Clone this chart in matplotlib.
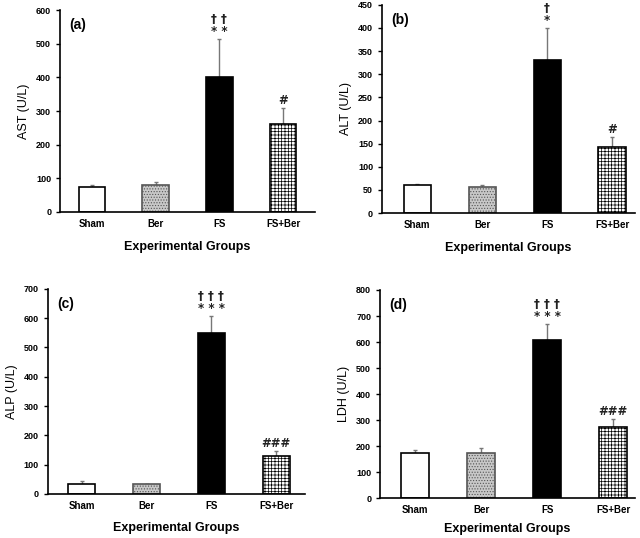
import matplotlib
matplotlib.use("Agg")
import matplotlib.pyplot as plt
import numpy as np

plt.rcParams['font.family'] = ['Liberation Sans', 'DejaVu Sans']
plt.rcParams['hatch.linewidth'] = 0.5

groups = ["Sham", "Ber", "FS", "FS+Ber"]

ast_mean = [75, 80, 400, 262]
ast_err = [5, 8, 115, 48]
ast_sig = ["", "", "† †\n* *", "#"]

alt_mean = [60, 57, 330, 143]
alt_err = [3, 4, 70, 22]
alt_sig = ["", "", "†\n*", "#"]

alp_mean = [35, 33, 548, 130]
alp_err = [10, 2, 60, 18]
alp_sig = ["", "", "† † †\n* * *", "###"]

ldh_mean = [172, 172, 608, 272]
ldh_err = [15, 22, 62, 32]
ldh_sig = ["", "", "† † †\n* * *", "###"]

panels = [
    ("(a)", "AST (U/L)", ast_mean, ast_err, ast_sig, 600, 100,
     [0.094, 0.606, 0.398, 0.375], (-0.5, 3.5), 9),
    ("(b)", "ALT (U/L)", alt_mean, alt_err, alt_sig, 450, 50,
     [0.597, 0.604, 0.395, 0.387], (-0.54, 3.35), 9),
    ("(c)", "ALP (U/L)", alp_mean, alp_err, alp_sig, 700, 100,
     [0.075, 0.082, 0.402, 0.381], (-0.52, 3.45), 8),
    ("(d)", "LDH (U/L)", ldh_mean, ldh_err, ldh_sig, 800, 100,
     [0.594, 0.074, 0.398, 0.387], (-0.53, 3.33), 6),
]

faces = ["white", "#c8c8c8", "black", "white"]
hatches = [None, "......", None, "+++++"]
edges = ["black", "#555555", "black", "black"]

fig = plt.figure(figsize=(6.4, 5.38), dpi=100)

for label, ylab, mean, err, sig, ymax, step, rect, xl, lpad in panels:
    ax = fig.add_axes(rect)
    x = np.arange(len(groups))
    for i in range(len(groups)):
        ax.bar(x[i], mean[i], width=0.42, color=faces[i], edgecolor=edges[i],
               hatch=hatches[i], linewidth=1.2, zorder=2)
    ax.errorbar(x, mean, yerr=[np.zeros(len(err)), err], fmt='none',
                ecolor='#777777', elinewidth=1.0, capsize=1.5, capthick=1.0, zorder=1)
    for i in range(len(groups)):
        if sig[i]:
            ax.text(x[i], mean[i] + err[i] + ymax * 0.005, sig[i], ha='center', va='bottom',
                    fontsize=8.5, linespacing=0.85, color='#222222', fontweight='bold',
                    family=['DejaVu Sans'])
    ax.set_xlim(*xl)
    ax.set_ylim(0, ymax)
    ax.set_yticks(np.arange(0, ymax + 1, step))
    ax.set_xticks(x)
    ax.set_xticklabels(groups, fontsize=7, fontweight='bold')
    ax.tick_params(axis='x', length=0, pad=5)
    ax.tick_params(axis='y', labelsize=6.5, length=3, width=1, direction='out')
    for t in ax.get_yticklabels():
        t.set_fontweight('bold')
    ax.spines['top'].set_visible(False)
    ax.spines['right'].set_visible(False)
    ax.spines['left'].set_linewidth(1.2)
    ax.spines['bottom'].set_linewidth(1.2)
    ax.set_ylabel(ylab, fontsize=9)
    ax.set_xlabel("Experimental Groups", fontsize=9, fontweight='bold', labelpad=lpad)
    ax.text(0.035, 0.96, label, transform=ax.transAxes, fontsize=10,
            fontweight='bold', va='top', ha='left')

fig.savefig("out.png", dpi=100)
